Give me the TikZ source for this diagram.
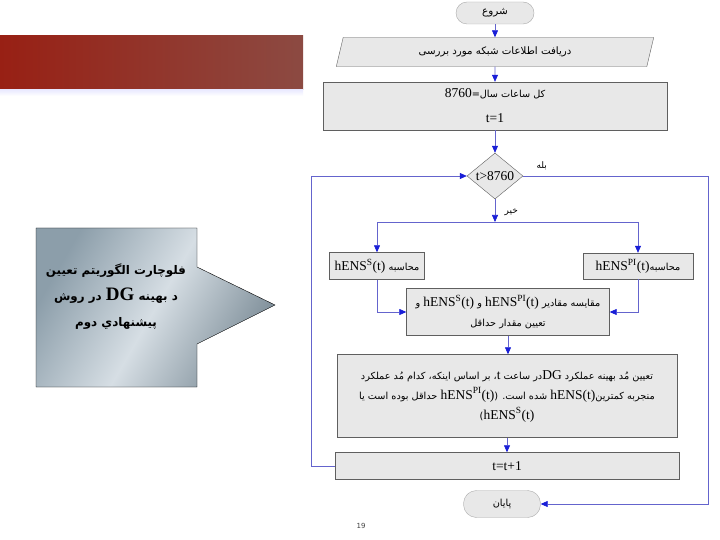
\documentclass[tikz,border=0pt]{standalone}
\usepackage{fontspec}
\setmainfont{Liberation Serif}
\newfontfamily\fa[Script=Arabic,Scale=0.72]{DejaVu Sans}
\newfontfamily\pagefont{DejaVu Sans}
\TeXXeTstate=1
\usetikzlibrary{shapes.geometric, arrows.meta}

\definecolor{boxfill}{RGB}{232,232,232}
\definecolor{boxline}{RGB}{95,95,95}
\definecolor{termline}{RGB}{170,170,170}
\definecolor{flowline}{RGB}{100,100,205}
\definecolor{tipblue}{RGB}{25,30,215}
\definecolor{bannerleft}{RGB}{152,32,20}
\definecolor{bannerright}{RGB}{140,74,66}
\definecolor{noteA}{RGB}{140,158,170}
\definecolor{noteB}{RGB}{214,222,228}

\newcommand{\fatxt}[1]{{\fa\beginR #1\endR}}
\newcommand{\hens}[1]{\beginL{\rmfamily hENS\textsuperscript{#1}(t)}\endL}

\begin{document}
\begin{tikzpicture}[x=1pt, y=-1pt,
    every node/.style={font=\fontsize{13.5}{16}\selectfont},
    box/.style={draw=boxline, fill=boxfill, align=center, inner sep=2pt},
    term/.style={draw=termline, fill=boxfill, align=center},
    flow/.style={draw=flowline, line width=0.6pt,
        -{Triangle[length=7pt, width=6pt, color=tipblue]}}]
    \fill[white] (0,0) rectangle (720,540);
    \useasboundingbox (0,0) rectangle (720,540);

    % 1. Banner and callout
    \shade[left color=bannerleft, right color=bannerright] (0,36) rectangle (303,90);
    \shade[top color=blue!8, bottom color=white] (0,90) rectangle (303,96);
    \shade[left color=noteA, right color=noteA!90!black, middle color=noteB, shading angle=60, draw=black, line width=0.4pt]
        (36,228) -- (197,228) -- (197,267) -- (275,305) -- (197,344) -- (197,387) -- (36,387) -- cycle;
    \node[align=center, font=\fontsize{16.5}{26}\selectfont\bfseries] (title) at (116,297)
        {\fatxt{فلوچارت الگوریتم تعیین}\\
         \fatxt{د بهینه \beginL{\rmfamily\fontsize{19}{19}\selectfont DG}\endL{} در روش}\\
         \fatxt{پیشنهادي دوم}};

    % 2. Flowchart blocks
    \node[term, rounded corners=11pt, minimum width=78pt, minimum height=22pt, font=\fontsize{14.5}{18}\selectfont]
        (start) at (495,13) {\fatxt{شروع}};
    \node[box, trapezium, trapezium left angle=76, trapezium right angle=104, trapezium stretches=true,
        minimum width=318pt, minimum height=29pt, font=\fontsize{14.2}{18}\selectfont]
        (input) at (495,52) {\fatxt{دریافت اطلاعات شبکه مورد بررسی}};
    \node[box, minimum width=344pt, minimum height=48pt] (init) at (495,106)
        {\fatxt{کل ساعات سال=\beginL{\rmfamily 8760}\endL}\\[9pt] t=1};
    \node[box, diamond, aspect=1.2, inner sep=0.5pt, minimum width=56pt, minimum height=46pt] (dec) at (495,176) {t>8760};
    \node[box, minimum width=95pt, minimum height=27pt] (hs) at (377,266) {\fatxt{محاسبه \hens{S}}};
    \node[box, minimum width=110pt, minimum height=26pt] (hpi) at (638,266) {\fatxt{محاسبه\hens{PI}}};
    \node[box, minimum width=203pt, minimum height=47pt, font=\fontsize{13.5}{20}\selectfont] (cmp) at (508,312)
        {\fatxt{مقایسه مقادیر \hens{PI} و \hens{S} و}\\ \fatxt{تعیین مقدار حداقل}};
    \node[box, minimum width=340pt, minimum height=83pt, font=\fontsize{13.5}{20}\selectfont] (mode) at (507,396)
        {\fatxt{تعیین مُد بهینه عملکرد \beginL{\rmfamily DG}\endL در ساعت \beginL{\rmfamily t}\endL، بر اساس اینکه، کدام مُد عملکرد}\\
         \fatxt{منجربه کمترین\beginL{\rmfamily hENS(t)}\endL{} شده است. (\hens{PI} حداقل بوده است یا}\\
         \fatxt{\hens{S})}};
    \node[box, minimum width=344pt, minimum height=27pt] (inc) at (507,466) {t=t+1};
    \node[term, rounded corners=13pt, minimum width=77pt, minimum height=27pt] (stop) at (502,504) {\fatxt{پایان}};

    % 3. Connectors
    \coordinate (split) at (495,222);
    \draw[flow] (start) -- (input);
    \draw[flow] (input) -- (init);
    \draw[flow] (init) -- (dec);
    \draw[flow] (dec.south) -- node[right, xshift=6pt, pos=0.55, font=\fontsize{12.5}{14}\selectfont] {\fatxt{خیر}} (split);
    \draw[flow] (split) -| (hs.north);
    \draw[flow] (split) -| (hpi.north);
    \draw[flow] (hs.south) |- (cmp.west);
    \draw[flow] (hpi.south) |- (cmp.east);
    \draw[flow] (cmp.south) -- (cmp.south |- mode.north);
    \draw[flow] (mode) -- (inc);
    \draw[flow] (inc.west) -- ++(-24,0) |- (dec.west);
    \draw[flow] (dec.east) -- node[above=3pt, pos=0.1, font=\fontsize{12.5}{14}\selectfont] {\fatxt{بله}} ++(185,0) |- (stop.east);

    % 4. Page number
    \node[font=\pagefont\fontsize{7}{8}\selectfont, text=black!75] (pnum) at (361,526) {19};
\end{tikzpicture}
\end{document}
